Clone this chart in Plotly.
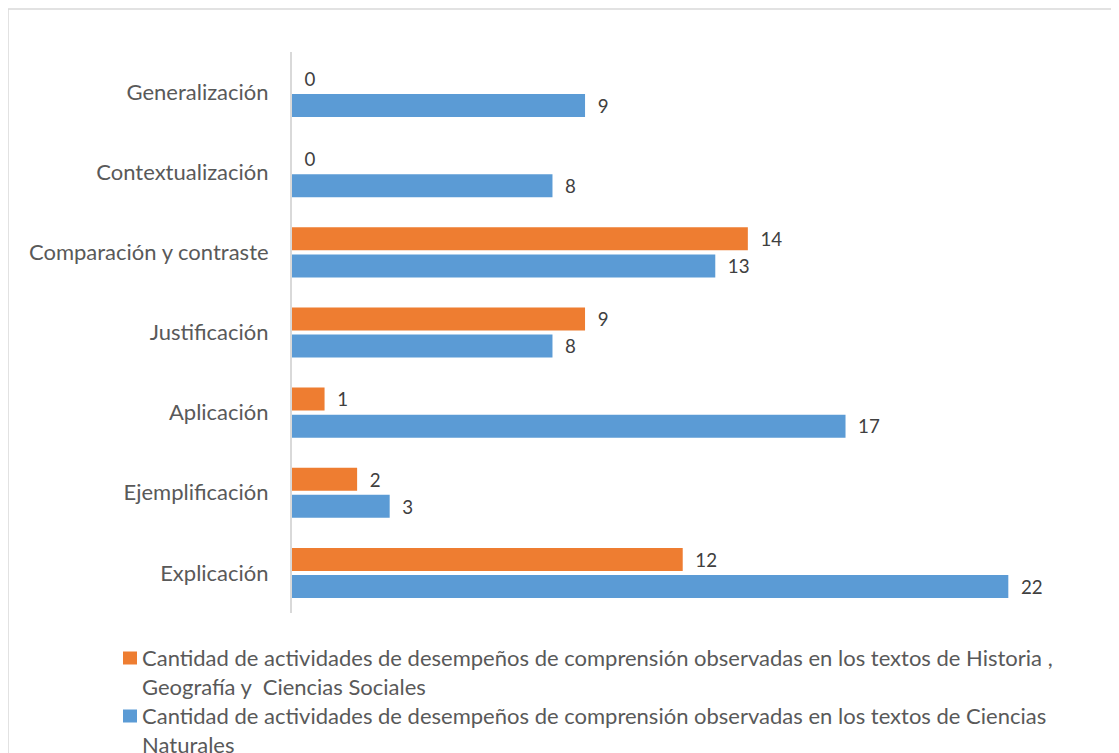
import plotly.graph_objects as go

categories = ["Explicación", "Ejemplificación", "Aplicación", "Justificación",
              "Comparación y contraste", "Contextualización", "Generalización"]
naturales = [22, 3, 17, 8, 13, 8, 9]
historia = [12, 2, 1, 9, 14, 0, 0]

name_hist = ("Cantidad de actividades de desempeños de comprensión observadas en los textos de Historia ,"
             "<br>Geografía y  Ciencias Sociales")
name_nat = ("Cantidad de actividades de desempeños de comprensión observadas en los textos de Ciencias"
            "<br>Naturales")

BLUE = "#5B9BD5"
ORANGE = "#EE7D31"
FONT = "Lato"
FS = 22
fig = go.Figure()
fig.add_trace(go.Bar(
    y=categories, x=naturales, orientation="h", name=name_nat,
    marker=dict(color=BLUE, line=dict(width=0)),
    text=naturales, texttemplate="\u00a0\u00a0%{x}", textposition="outside",
    textfont=dict(family=FONT, size=FS, color="#404040"), cliponaxis=False,
))
fig.add_trace(go.Bar(
    y=categories, x=historia, orientation="h", name=name_hist,
    marker=dict(color=ORANGE, line=dict(width=0)),
    text=historia, texttemplate="\u00a0\u00a0%{x}", textposition="outside",
    textfont=dict(family=FONT, size=FS, color="#404040"), cliponaxis=False,
))

# page offset (body margin) compensation
OFF = 8
W, H = 1119 - OFF, 753 - OFF
L, T = 292 - OFF, 52 - OFF
R = W - (1106 - OFF)
B = H - (613 - OFF)
pw, ph = W - L - R, H - T - B

def fx(px):
    return (px - OFF - L) / pw

def fy(py):
    return (H - B - (py - OFF)) / ph

# manual legend
legend_items = [(name_hist, ORANGE, 658), (name_nat, BLUE, 716)]
annotations = []
shapes = [dict(type="rect", xref="paper", yref="paper",
               x0=fx(8), x1=fx(1140), y0=fy(780), y1=fy(9),
               line=dict(color="#d9d9d9", width=1.5), fillcolor="rgba(0,0,0,0)",
               layer="below")]
for txt, col, cy in legend_items:
    shapes.append(dict(type="rect", xref="paper", yref="paper",
                       x0=fx(123), x1=fx(137), y0=fy(cy + 6.5), y1=fy(cy - 6.5),
                       fillcolor=col, line=dict(width=0)))
    annotations.append(dict(xref="paper", yref="paper", x=fx(141), y=fy(cy - 15),
                            xanchor="left", yanchor="top", align="left", showarrow=False,
                            text=txt, font=dict(family=FONT, size=FS, color="#595959"),
                            borderpad=0))

fig.update_layout(
    width=W, height=H,
    margin=dict(l=L, r=R, t=T, b=B, autoexpand=False),
    paper_bgcolor="white", plot_bgcolor="white",
    barmode="group", bargap=0.325, bargroupgap=0.15,
    font=dict(family=FONT, size=FS, color="#595959"),
    xaxis=dict(range=[0, 25], showgrid=False, zeroline=False, showticklabels=False,
               showline=False, fixedrange=True, automargin=False),
    yaxis=dict(type="category", categoryorder="array", categoryarray=categories,
               showline=True, linecolor="#d9d9d9", linewidth=2, showgrid=False,
               ticks="", ticklabelstandoff=17, automargin=False,
               tickfont=dict(family=FONT, size=FS, color="#595959")),
    showlegend=False,
    shapes=shapes,
    annotations=annotations,
)

fig.write_html("out.html")
